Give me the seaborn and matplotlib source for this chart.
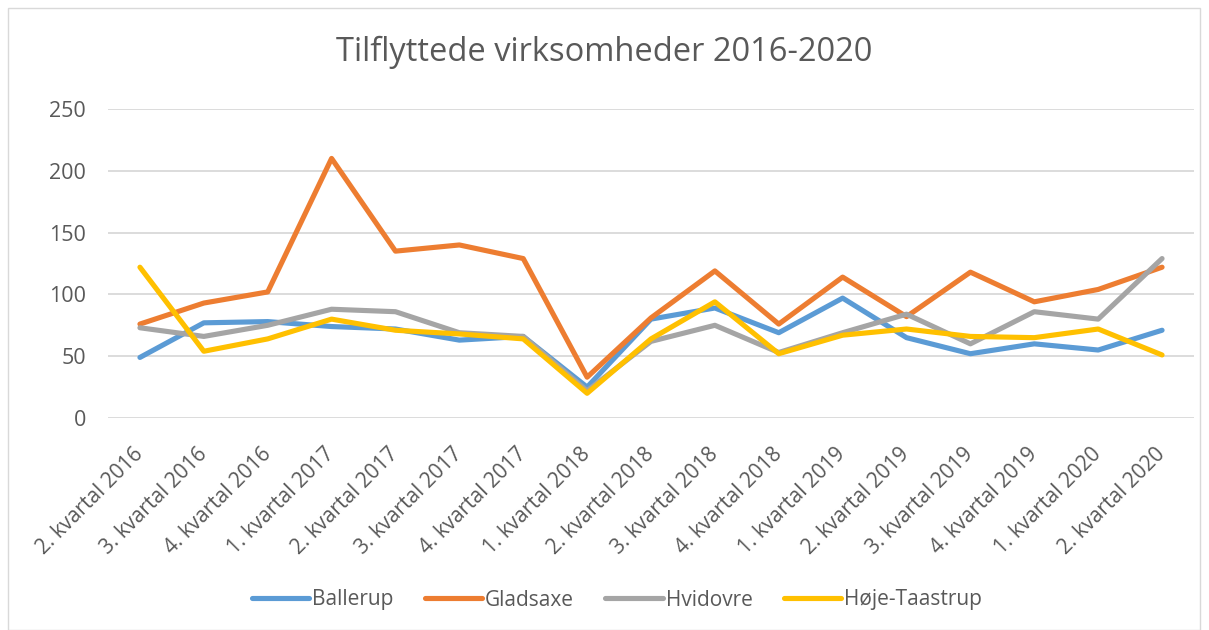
import pandas as pd
import matplotlib.pyplot as plt
import seaborn as sns
from matplotlib.patches import Rectangle

quarters = ["2. kvartal 2016", "3. kvartal 2016", "4. kvartal 2016",
            "1. kvartal 2017", "2. kvartal 2017", "3. kvartal 2017", "4. kvartal 2017",
            "1. kvartal 2018", "2. kvartal 2018", "3. kvartal 2018", "4. kvartal 2018",
            "1. kvartal 2019", "2. kvartal 2019", "3. kvartal 2019", "4. kvartal 2019",
            "1. kvartal 2020", "2. kvartal 2020"]

ballerup = [49, 77, 78, 74, 72, 63, 66, 25, 80, 89, 69, 97, 65, 52, 60, 55, 71]
gladsaxe = [76, 93, 102, 210, 135, 140, 129, 33, 81, 119, 76, 114, 82, 118, 94, 104, 122]
hvidovre = [73, 66, 75, 88, 86, 69, 66, 22, 62, 75, 53, 69, 84, 60, 86, 80, 129]
hoeje_taastrup = [122, 54, 64, 80, 71, 68, 64, 20, 64, 94, 52, 67, 72, 66, 65, 72, 51]

series = {"Ballerup": ballerup, "Gladsaxe": gladsaxe,
          "Hvidovre": hvidovre, "Høje-Taastrup": hoeje_taastrup}
colors = ["#5B9BD5", "#ED7D31", "#A5A5A5", "#FFC000"]

rows = []
for name, vals in series.items():
    for q, v in zip(quarters, vals):
        rows.append({"kvartal": q, "kommune": name, "antal": v})
df = pd.DataFrame(rows)

sns.set_style("white")
plt.rcParams["font.family"] = ["Open Sans", "DejaVu Sans"]
text_color = "#595959"

fig = plt.figure(figsize=(12.09, 6.30), dpi=100)
ax = fig.add_axes([108 / 1209, 1 - 418 / 630, (1194 - 108) / 1209, (418 - 109) / 630])

sns.lineplot(data=df, x="kvartal", y="antal", hue="kommune", palette=colors,
             linewidth=3.7, sort=False, ax=ax, solid_capstyle="round")

ax.set_ylim(0, 250)
ax.set_xlim(-0.5, len(quarters) - 0.5)
ax.set_yticks(range(0, 251, 50))
ax.yaxis.grid(True, color="#D9D9D9", linewidth=1.3)
ax.set_axisbelow(True)
for s in ax.spines.values():
    s.set_visible(False)
ax.set_xlabel("")
ax.set_ylabel("")
ax.tick_params(axis="both", length=0, colors=text_color, labelsize=15.5)
ax.tick_params(axis="y", pad=16)
ax.tick_params(axis="x", pad=24, labelsize=15)
plt.setp(ax.get_xticklabels(), rotation=45, ha="right", va="center", rotation_mode="anchor")

fig.text(0.5, 1 - 52 / 630, "Tilflyttede virksomheder 2016-2020", ha="center", va="center",
         fontsize=23.5, color=text_color)

handles, labels = ax.get_legend_handles_labels()
ax.legend(handles, labels, loc="center", bbox_to_anchor=(617 / 1209, 1 - 600 / 630), bbox_transform=fig.transFigure,
          ncol=4, frameon=False, fontsize=15, labelcolor=text_color, handlelength=2.75,
          columnspacing=1.5, handletextpad=0.15)

fig.patches.append(Rectangle((8 / 1209, 0.0), 1192 / 1209, 1 - 8 / 630, transform=fig.transFigure,
                             fill=False, edgecolor="#D9D9D9", linewidth=1))

fig.savefig("out.png", dpi=100)
